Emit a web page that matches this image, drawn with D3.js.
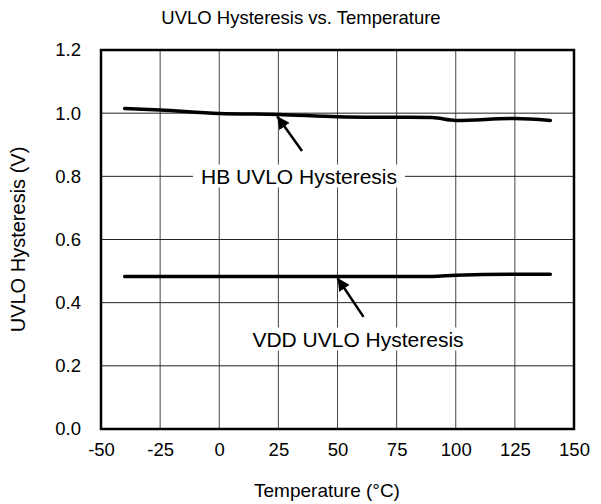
<!DOCTYPE html>
<html>
<head>
<meta charset="utf-8">
<script src="https://cdn.jsdelivr.net/npm/d3@7"></script>
<style>
  body { margin: 0; background: #fff; }
  svg text { font-family: "Liberation Sans", Arial, sans-serif; fill: #000; }
</style>
</head>
<body>
<div id="chart"></div>
<script>
// Data
const temps = [-40, -25, 0, 25, 50, 75, 90, 100, 125, 140];
const hbHyst = [1.015, 1.010, 0.999, 0.996, 0.989, 0.987, 0.986, 0.977, 0.983, 0.977];
const vddHyst = [0.483, 0.483, 0.483, 0.483, 0.483, 0.483, 0.483, 0.487, 0.490, 0.490];
const xTicks = [-50, -25, 0, 25, 50, 75, 100, 125, 150];
const yTicks = [0, 0.2, 0.4, 0.6, 0.8, 1.0, 1.2];

const width = 601, height = 504;
const margin = { top: 50, right: 27, bottom: 75, left: 101 };
const plotW = width - margin.left - margin.right;
const plotH = height - margin.top - margin.bottom;

const svg = d3.select("#chart").append("svg")
    .attr("width", width)
    .attr("height", height);

const x = d3.scaleLinear().domain([-50, 150]).range([0, plotW]);
const y = d3.scaleLinear().domain([0, 1.2]).range([plotH, 0]);

const g = svg.append("g")
    .attr("transform", `translate(${margin.left},${margin.top})`);

// Grid lines
g.append("g").selectAll("line")
    .data(xTicks.slice(1, -1))
    .join("line")
    .attr("x1", d => x(d)).attr("x2", d => x(d))
    .attr("y1", 0).attr("y2", plotH)
    .attr("stroke", "#444").attr("stroke-width", 1);

g.append("g").selectAll("line")
    .data(yTicks.slice(1, -1))
    .join("line")
    .attr("x1", 0).attr("x2", plotW)
    .attr("y1", d => y(d)).attr("y2", d => y(d))
    .attr("stroke", "#222").attr("stroke-width", 1);

// Axes (labels only), plain hyphen for negatives like the reference
const xAxis = g.append("g")
    .attr("transform", `translate(0,${plotH})`)
    .call(d3.axisBottom(x).tickValues(xTicks).tickSize(0).tickPadding(14).tickFormat(d => String(d)));
const yAxis = g.append("g")
    .call(d3.axisLeft(y).tickValues(yTicks).tickSize(0).tickPadding(20).tickFormat(d => d.toFixed(1)));
[xAxis, yAxis].forEach(a => {
    a.select(".domain").remove();
    a.selectAll("text").style("font-size", "18.5px").style("font-family", "Liberation Sans, Arial, sans-serif");
});

// Data lines
const line = d3.line()
    .x((d, i) => x(temps[i]))
    .y(d => y(d))
    .curve(d3.curveMonotoneX);

[hbHyst, vddHyst].forEach(series => {
    g.append("path")
        .datum(series)
        .attr("d", line)
        .attr("fill", "none")
        .attr("stroke", "#000")
        .attr("stroke-width", 3.5)
        .attr("stroke-linecap", "round");
});

// Frame
g.append("rect")
    .attr("width", plotW).attr("height", plotH)
    .attr("fill", "none").attr("stroke", "#000").attr("stroke-width", 2.5);

// Annotations
svg.append("defs").append("marker")
    .attr("id", "arrow")
    .attr("viewBox", "0 0 10 10")
    .attr("refX", 10).attr("refY", 5)
    .attr("markerWidth", 5).attr("markerHeight", 5)
    .attr("markerUnits", "strokeWidth")
    .attr("orient", "auto")
    .append("path")
    .attr("d", "M0,0 L10,5 L0,10 Z")
    .attr("fill", "#000");

const notes = [
    { text: "HB UVLO Hysteresis", tx: 299, ty: 176, from: [35, 0.88], to: [24.5, 0.990] },
    { text: "VDD UVLO Hysteresis", tx: 358, ty: 339, from: [61, 0.355], to: [50, 0.478] }
];

notes.forEach(n => {
    g.append("line")
        .attr("x1", x(n.from[0])).attr("y1", y(n.from[1]))
        .attr("x2", x(n.to[0])).attr("y2", y(n.to[1]))
        .attr("stroke", "#000").attr("stroke-width", 2.5)
        .attr("marker-end", "url(#arrow)");
    const t = svg.append("text")
        .attr("x", n.tx).attr("y", n.ty)
        .attr("text-anchor", "middle")
        .attr("dominant-baseline", "central")
        .style("font-size", "21px")
        .text(n.text);
    const bb = t.node().getBBox();
    svg.insert("rect", () => t.node())
        .attr("x", bb.x - 8).attr("y", bb.y)
        .attr("width", bb.width + 16).attr("height", bb.height)
        .attr("fill", "#fff");
});

// Titles
svg.append("text")
    .attr("x", 301).attr("y", 24)
    .attr("text-anchor", "middle")
    .style("font-size", "18.5px")
    .text("UVLO Hysteresis vs. Temperature");

svg.append("text")
    .attr("x", 327).attr("y", 497)
    .attr("text-anchor", "middle")
    .style("font-size", "19px")
    .text("Temperature (°C)");

svg.append("text")
    .attr("transform", `translate(25,${margin.top + plotH / 2}) rotate(-90)`)
    .attr("text-anchor", "middle")
    .style("font-size", "20px")
    .text("UVLO Hysteresis (V)");
</script>
</body>
</html>
